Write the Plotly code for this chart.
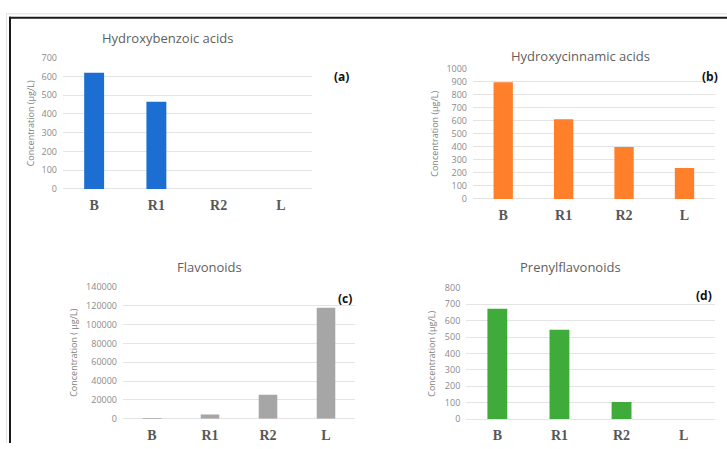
import plotly.graph_objects as go

W, H = 727, 449

categories = ["B", "R1", "R2", "L"]
hydroxybenzoic = [620, 465, 0, 0]
hydroxycinnamic = [895, 610, 398, 237]
flavonoids = [600, 4600, 25500, 118000]
prenylflavonoids = [673, 545, 104, 0]

titles = ["Hydroxybenzoic acids", "Hydroxycinnamic acids", "Flavonoids", "Prenylflavonoids"]
panel_tags = ["(a)", "(b)", "(c)", "(d)"]
y_titles = ["Concentration (μg/L)", "Concentration (μg/L)",
            "Concentration ( μg/L)", "Concentration (μg/L)"]
y_ranges = [(0, 700, 100), (0, 1000, 100), (0, 140000, 20000), (0, 800, 100)]
colors = ["#1c6ed2", "#ff7f2a", "#a6a6a6", "#3fab3b"]
series = [hydroxybenzoic, hydroxycinnamic, flavonoids, prenylflavonoids]

# plot-area boxes in pixels: (left, right, top, bottom)
boxes = [(63, 312, 52.3, 187.3),
         (473, 714.7, 63.3, 197.7),
         (123, 355, 288.3, 424),
         (466.3, 714.7, 289.3, 424.3)]
# title centre, tag centre, y-title x (pixels)
title_pos = [(167, 31.7), (580, 50.7), (209, 267.7), (570, 267.7)]
tag_pos = [(341, 72), (709.5, 71.7), (345, 300), (703.8, 297.3)]
ytitle_x = [30, 435, 74, 431.3]


def px(x):
    return x / W


def py(y):
    return 1 - y / H


fig = go.Figure()
annotations = []
for i in range(4):
    n = "" if i == 0 else str(i + 1)
    l, r, t, b = boxes[i]
    fig.add_trace(go.Bar(x=categories, y=series[i], marker_color=colors[i],
                         marker_line_width=0, width=0.32,
                         xaxis="x" + n, yaxis="y" + n, showlegend=False))
    lo, hi, step = y_ranges[i]
    fig.layout["xaxis" + n] = dict(
        domain=[px(l), px(r)], anchor="y" + n, showgrid=False, showline=False,
        zeroline=False, ticks="", ticklabelstandoff=6,
        tickfont=dict(family="Liberation Serif", size=14, color="#575757", weight="bold"),
        fixedrange=True)
    fig.layout["yaxis" + n] = dict(
        domain=[py(b), py(t)], anchor="x" + n, range=[lo, hi], dtick=step,
        tick0=0, tickformat="d", showgrid=True, gridcolor="#e4e4e4", gridwidth=1,
        zeroline=True, zerolinecolor="#e4e4e4", zerolinewidth=1,
        showline=False, ticks="", ticklabelstandoff=5,
        tickfont=dict(family="Open Sans", size=9, color="#8a8a8a"),
        fixedrange=True)
    annotations.append(dict(text=titles[i], x=px(title_pos[i][0]), y=py(title_pos[i][1]),
                            xref="paper", yref="paper", showarrow=False,
                            xanchor="center", yanchor="middle",
                            font=dict(family="Open Sans", size=13, color="#5f5f5f")))
    annotations.append(dict(text="<b>" + panel_tags[i] + "</b>", x=px(tag_pos[i][0]),
                            y=py(tag_pos[i][1]), xref="paper", yref="paper",
                            showarrow=False, xanchor="center", yanchor="middle",
                            font=dict(family="Open Sans", size=12, color="#111111")))
    annotations.append(dict(text=y_titles[i], x=px(ytitle_x[i]), y=py((t + b) / 2),
                            xref="paper", yref="paper", showarrow=False, textangle=-90,
                            xanchor="center", yanchor="middle",
                            font=dict(family="Open Sans", size=9, color="#7f7f7f")))

shapes = [
    # faint outer rule
    dict(type="line", xref="paper", yref="paper", x0=px(6), x1=1, y0=py(7), y1=py(7),
         line=dict(color="#e2e2e2", width=1)),
    dict(type="line", xref="paper", yref="paper", x0=px(6.5), x1=px(6.5), y0=py(7), y1=0,
         line=dict(color="#e2e2e2", width=1)),
    # dark frame
    dict(type="line", xref="paper", yref="paper", x0=px(9), x1=1, y0=py(11), y1=py(11),
         line=dict(color="#1a1a1a", width=2)),
    dict(type="line", xref="paper", yref="paper", x0=px(10), x1=px(10), y0=py(10), y1=0,
         line=dict(color="#1a1a1a", width=2)),
]

fig.update_layout(width=W, height=H, margin=dict(l=0, r=0, t=0, b=0),
                  paper_bgcolor="white", plot_bgcolor="white",
                  annotations=annotations, shapes=shapes, bargap=0.68)

fig.write_html("out.html", config={"displayModeBar": False})
